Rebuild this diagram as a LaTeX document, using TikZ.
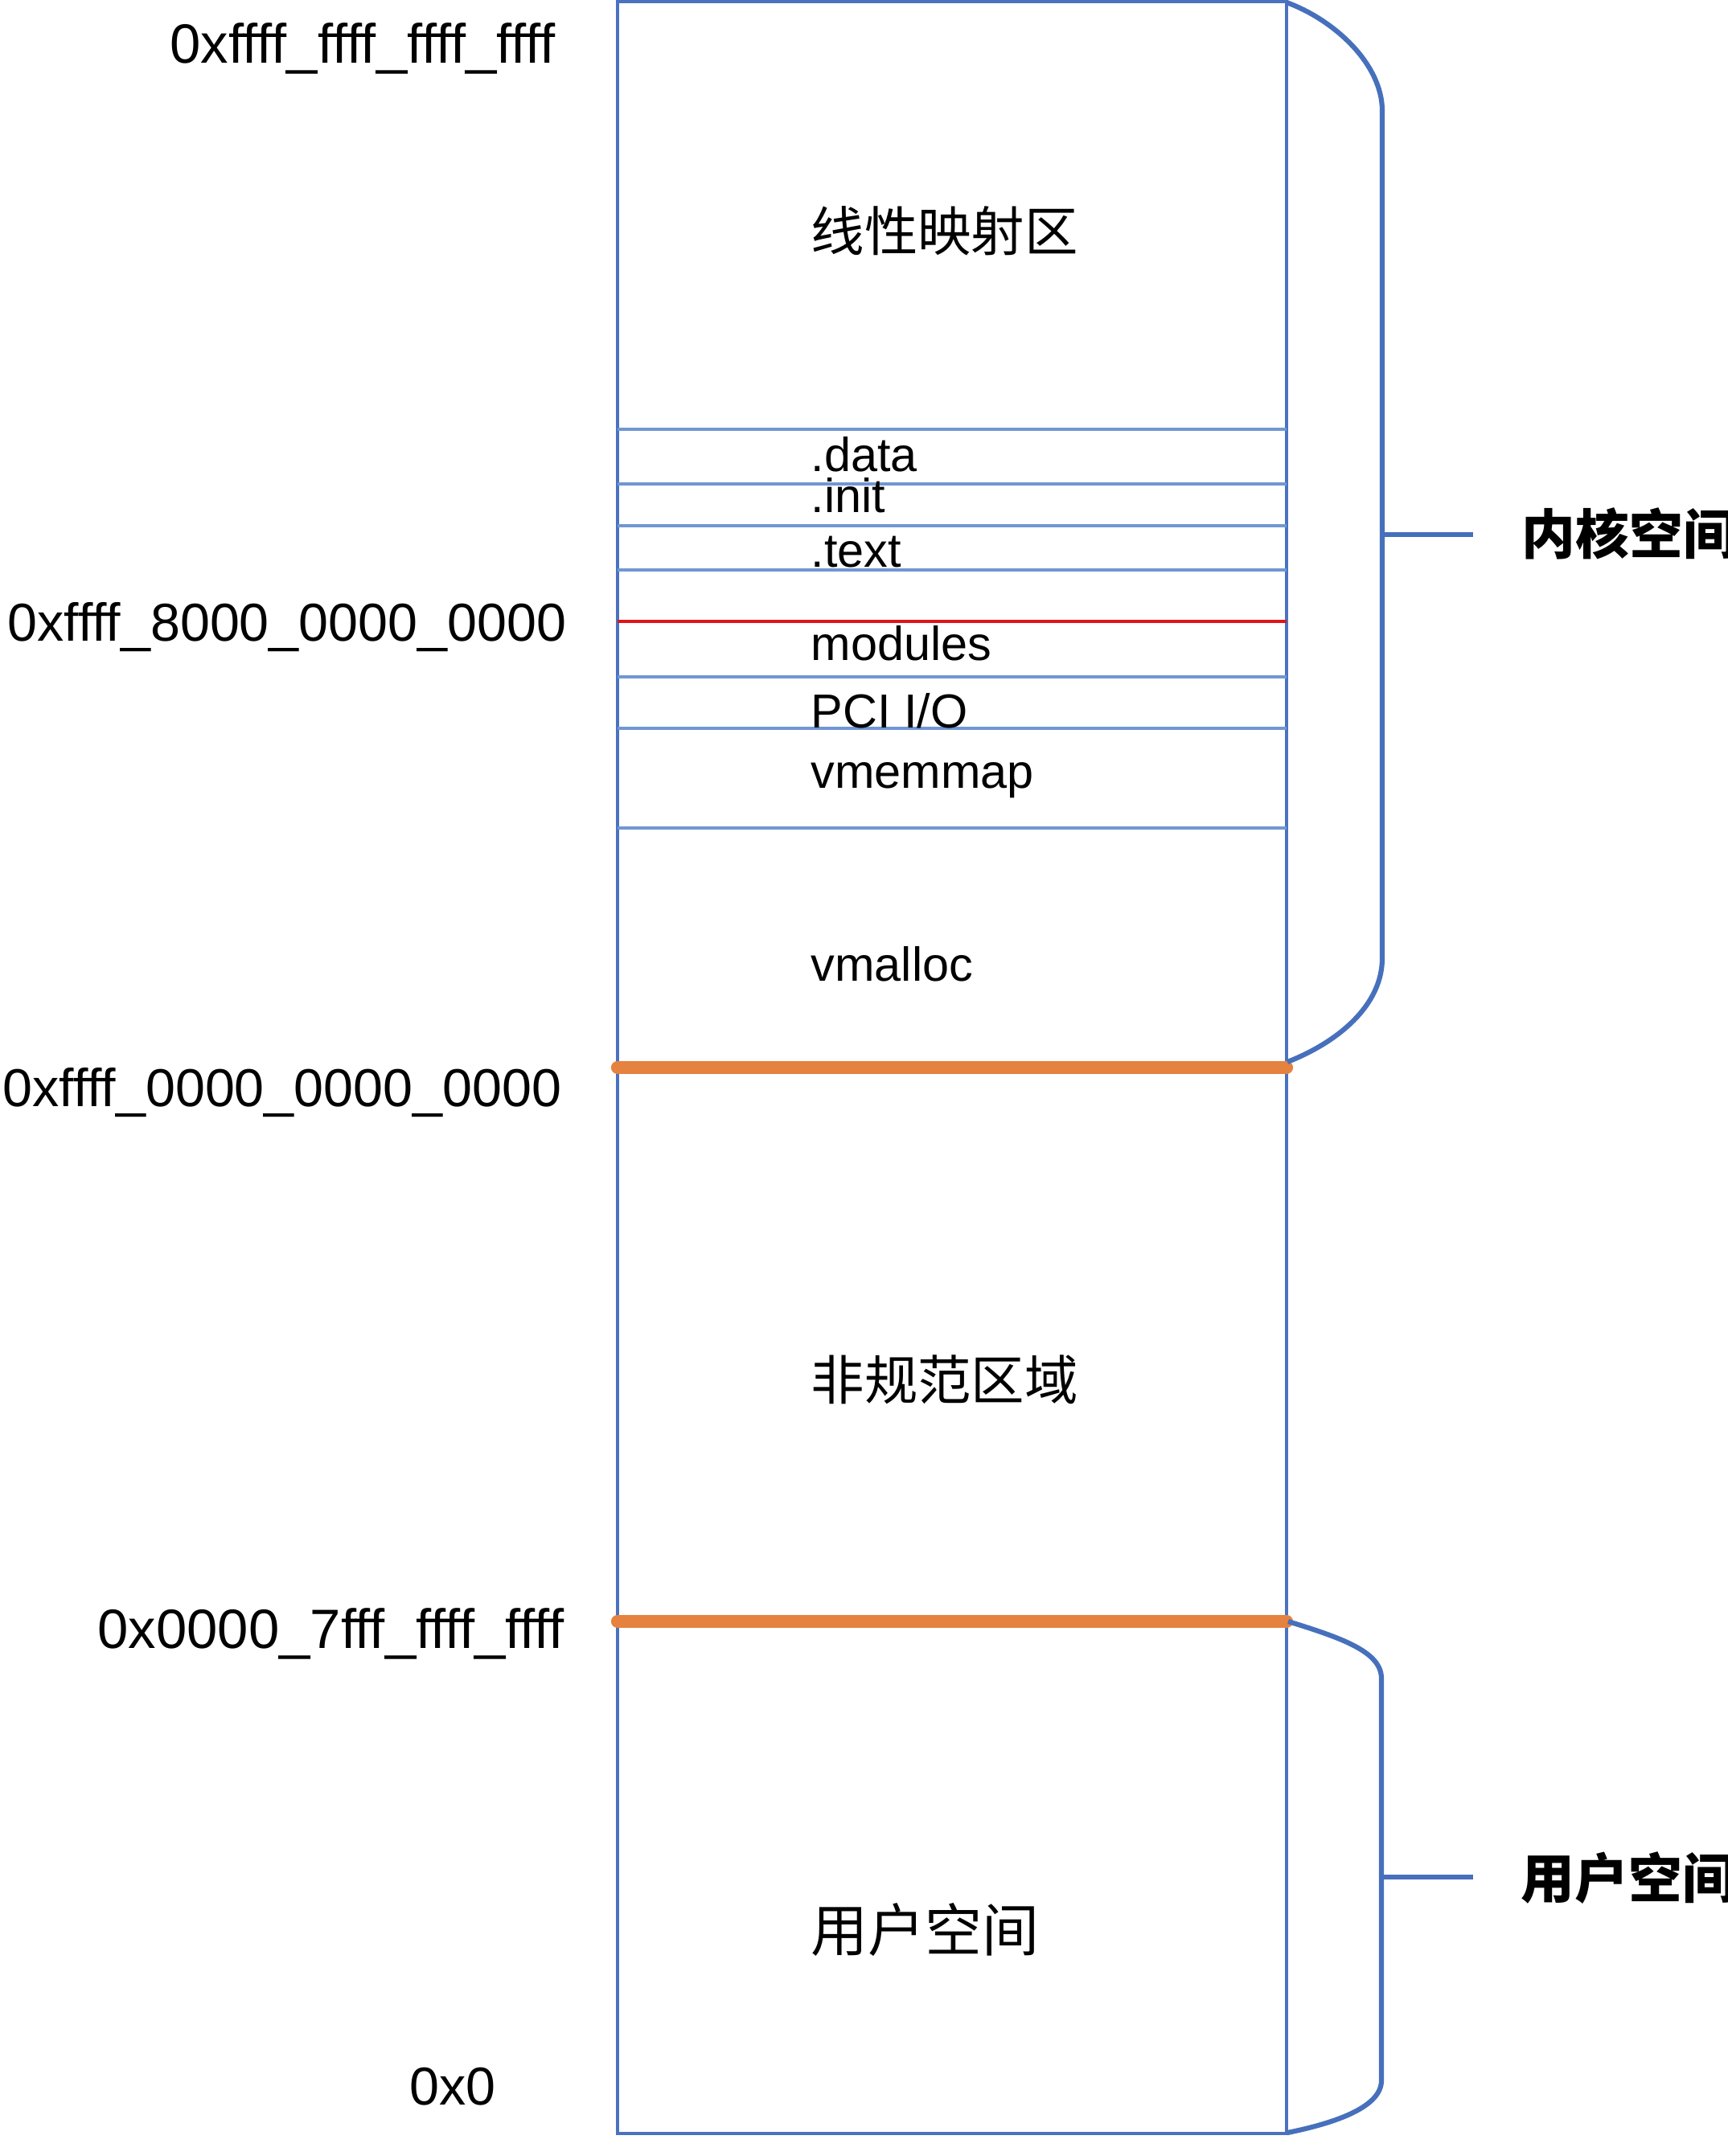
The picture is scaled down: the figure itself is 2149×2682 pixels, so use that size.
\documentclass[tikz,border=0pt]{standalone}
\usepackage{fontspec}
\setmainfont{Liberation Sans}
\newfontfamily\cjk{Noto Sans CJK SC}
\definecolor{boxblue}{HTML}{4A72C0}
\definecolor{secblue}{HTML}{7196D2}
\definecolor{braceblue}{HTML}{4670BC}
\definecolor{memorange}{HTML}{E5823F}
\definecolor{memred}{HTML}{E0141B}
\begin{document}
\begin{tikzpicture}[x=0.1mm,y=-0.1mm,
  hexlbl/.style={anchor=base east, inner sep=0pt, font=\fontsize{18.9pt}{22pt}\selectfont},
  hexwide/.style={hexlbl, font=\fontsize{19.6pt}{22pt}\selectfont},
  seclbl/.style={anchor=base west, inner sep=0pt, font=\fontsize{16.9pt}{19pt}\selectfont},
  cjklbl/.style={anchor=west, inner sep=0pt, font=\cjk\fontsize{18.9pt}{22pt}\selectfont},
  cjkbig/.style={anchor=west, inner sep=0pt, font=\cjk\fontsize{20.2pt}{24pt}\selectfont},
  sidelbl/.style={anchor=west, inner sep=0pt, font=\cjk\bfseries\fontsize{19pt}{22pt}\selectfont},
  boxline/.style={draw=boxblue, line width=0.95pt},
  secline/.style={draw=secblue, line width=1.2pt},
  redline/.style={draw=memred, line width=1.15pt},
  orangeline/.style={draw=memorange, line width=4.6pt, line cap=round},
  brace/.style={draw=braceblue, line width=1.75pt, line join=round},
  tick/.style={draw=braceblue, line width=1.6pt}]
\useasboundingbox (0,0) rectangle (2149,2682);

% main column
\coordinate (tl) at (768,2);
\coordinate (br) at (1600,2654);
\draw[boxline] (tl) rectangle (br);

% section dividers
\foreach \yy in {534,602,654,709,842,906,1030}
  \draw[secline] (768,\yy) -- (1600,\yy);
\draw[redline] (768,773) -- (1600,773);
\draw[orangeline] (768,1328) -- (1600,1328);
\draw[orangeline] (768,2017) -- (1600,2017);

% section labels
\node[cjklbl] (lin) at (1008,287) {线性映射区};
\node[seclbl] (data) at (1008,586) {.data};
\node[seclbl] (init) at (1008,637) {.init};
\node[seclbl] (text) at (1008,705) {.text};
\node[seclbl] (mod) at (1008,821) {modules};
\node[seclbl] (pci) at (1008,905) {PCI I/O};
\node[seclbl] (vmm) at (1008,980) {vmemmap};
\node[seclbl] (vma) at (1008,1220) {vmalloc};
\node[cjklbl] (noncan) at (1008,1716) {非规范区域};
\node[cjkbig] (user) at (1008,2400) {用户空间};

% address labels
\node[hexwide] (a1) at (691,78) {0xffff\_ffff\_ffff\_ffff};
\node[hexlbl] (a2) at (705,797) {0xffff\_8000\_0000\_0000};
\node[hexlbl] (a3) at (699,1376) {0xffff\_0000\_0000\_0000};
\node[hexwide] (a4) at (702,2050) {0x0000\_7fff\_ffff\_ffff};
\node[hexlbl] (a5) at (617,2618) {0x0};

% kernel brace
\coordinate (kt) at (1600,3);
\coordinate (kb) at (1601,1321);
\coordinate (km) at (1719,665);
\coordinate (ke) at (1832,665);
\draw[brace] (kt) .. controls (1660,25) and (1719,80) .. (1719,138)
  -- (1719,1192) .. controls (1719,1250) and (1665,1296) .. (kb);
\draw[tick] (km) -- (ke);
\node[sidelbl] (ks) at (1892,664) {内核空间};

% user brace
\coordinate (ut) at (1602,2017);
\coordinate (ub) at (1601,2653);
\coordinate (um) at (1718,2335);
\coordinate (ue) at (1832,2335);
\draw[brace] (ut) .. controls (1670,2038) and (1718,2055) .. (1718,2088)
  -- (1718,2588) .. controls (1718,2620) and (1665,2640) .. (ub);
\draw[tick] (um) -- (ue);
\node[sidelbl] (us) at (1891,2336) {用户空间};
\end{tikzpicture}
\end{document}
